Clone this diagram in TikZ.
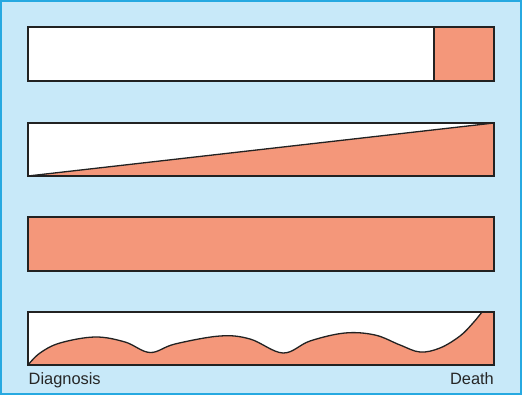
\documentclass[tikz,border=0pt]{standalone}
\usepackage{fontspec}
\setmainfont{Liberation Sans}
\definecolor{bgblue}{HTML}{C8E9F9}
\definecolor{frameblue}{HTML}{27A9E1}
\definecolor{salmon}{HTML}{F4977A}
\definecolor{edge}{HTML}{222222}
\begin{document}
\begin{tikzpicture}[x=1pt,y=-1pt,
  bar/.style={draw=edge,line width=1.3pt},
  fillpart/.style={fill=salmon},
  lbl/.style={font=\fontsize{16.4}{18}\selectfont,text=black!85,inner sep=0pt}]
\useasboundingbox (0,0) rectangle (522,395);
\fill[bgblue] (0,0) rectangle (522,395);
\draw[frameblue,line width=2pt] (1,1) rectangle (520.5,393.5);
% bar 1
\fill[white] (28,27) rectangle (434,81);
\fill[salmon] (434,27) rectangle (494,81);
\draw[bar] (434,27) -- (434,81);
\draw[bar] (28,27) rectangle (494,81);
% bar 2
\fill[white] (28,123) rectangle (494,176);
\fill[salmon] (28,176) -- (494,123) -- (494,176) -- cycle;
\draw[bar] (28,176) -- (494,123);
\draw[bar] (28,123) rectangle (494,176);
% bar 3
\fill[salmon] (28,217) rectangle (494,271);
\draw[bar] (28,217) rectangle (494,271);
% bar 4
\fill[white] (28,312) rectangle (494,365);
\def\wave{(28,365) (40,353) (60,343) (95,337) (125,342) (150,352.5) (175,344) (220,336) (250,339) (283,353) (310,341) (345,333) (375,335) (400,345) (420,352) (440,348) (460,336) (473,323) (482,312)}
\fill[salmon] plot[smooth,tension=0.6] coordinates {\wave} -- (494,312) -- (494,365) -- cycle;
\draw[draw=edge,line width=1.3pt] plot[smooth,tension=0.6] coordinates {\wave};
\draw[bar] (28,312) rectangle (494,365);
\node[lbl,anchor=base west] (diag) at (28.5,384) {Diagnosis};
\node[lbl,anchor=base east] (death) at (494,384) {Death};
\end{tikzpicture}
\end{document}
